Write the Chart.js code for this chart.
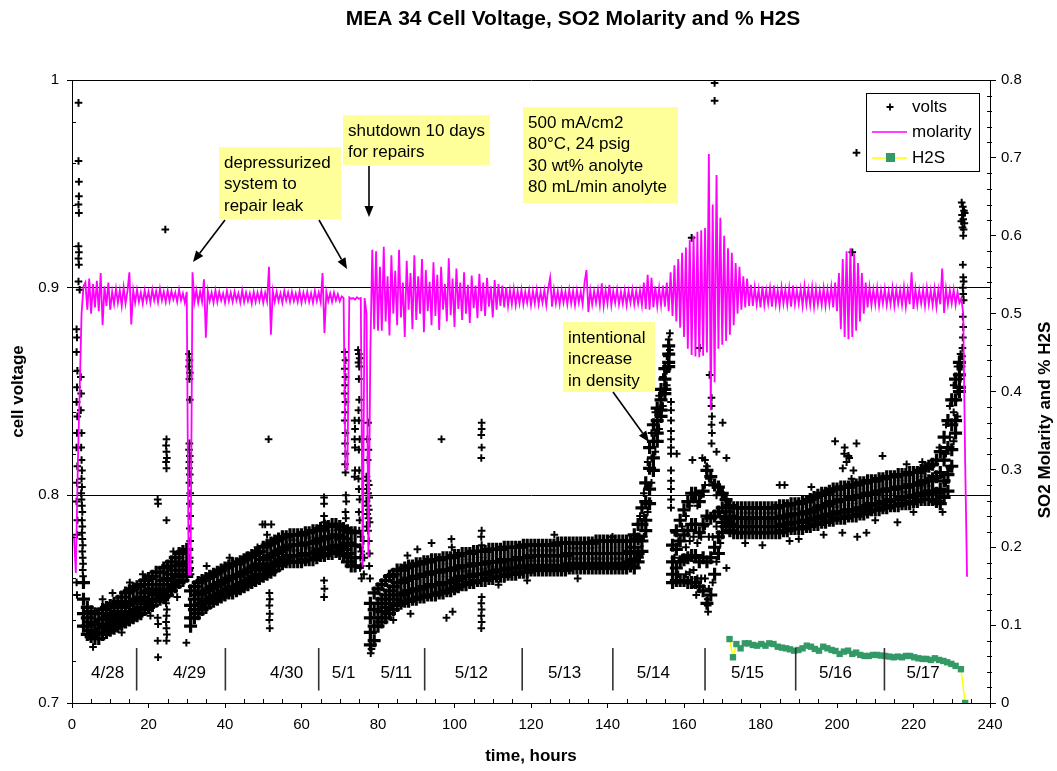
<!DOCTYPE html>
<html>
<head>
<meta charset="utf-8">
<script src="https://cdn.jsdelivr.net/npm/chart.js@4.4.1/dist/chart.umd.min.js"></script>
<style>
  html, body { margin: 0; padding: 0; background: #fff; }
  #wrap { width: 1057px; height: 771px; }
</style>
</head>
<body>
<div id="wrap"><canvas id="chart" width="1057" height="771"></canvas></div>
<script>
// ---- cell voltage: dense band, one row per hour [top, upper, lower, bottom] ----
const bandStart1 = 3;   // 4/28 – 4/29
const voltsBand1 = [
  [.758,.750,.743,.737],[.746,.741,.737,.733],[.744,.739,.735,.732],[.743,.738,.734,.731],[.743,.738,.734,.731],
  [.745,.740,.736,.733],[.746,.741,.737,.734],[.747,.742,.738,.735],[.748,.743,.739,.736],[.749,.744,.740,.737],
  [.751,.746,.741,.738],[.753,.747,.742,.739],[.754,.748,.743,.740],[.755,.749,.744,.741],[.756,.750,.745,.742],
  [.757,.751,.746,.743],[.759,.753,.748,.745],[.760,.754,.749,.746],[.761,.755,.750,.747],[.763,.757,.752,.749],
  [.763,.757,.753,.750],[.765,.759,.754,.751],[.766,.760,.755,.752],[.768,.762,.757,.754],[.770,.764,.759,.756],
  [.772,.766,.761,.758],[.773,.767,.762,.759],[.774,.768,.764,.761]
];
const bandStart2 = 31;  // 4/29 – 5/1
const voltsBand2 = [
  [.754,.747,.741,.737],[.756,.750,.745,.741],[.758,.752,.747,.743],[.759,.753,.748,.745],[.760,.754,.749,.746],
  [.761,.755,.750,.748],[.762,.756,.751,.749],[.763,.757,.752,.750],[.764,.758,.753,.751],[.765,.759,.754,.752],
  [.766,.760,.755,.753],[.767,.761,.756,.753],[.767,.761,.756,.754],[.768,.762,.757,.755],[.769,.763,.758,.756],
  [.770,.764,.759,.757],[.771,.765,.760,.758],[.772,.766,.761,.759],[.773,.767,.762,.760],[.775,.769,.764,.761],
  [.776,.770,.765,.762],[.777,.771,.766,.763],[.778,.772,.767,.764],[.779,.773,.768,.766],[.780,.774,.769,.767],
  [.780,.775,.770,.768],[.781,.776,.771,.768],[.781,.776,.771,.768],[.781,.776,.771,.768],[.781,.776,.771,.768],
  [.782,.777,.772,.769],[.782,.777,.772,.769],[.783,.777,.772,.769],[.783,.778,.773,.770],[.784,.779,.774,.771],
  [.785,.779,.774,.771],[.785,.780,.775,.772],[.786,.780,.775,.772],[.786,.781,.776,.773],[.785,.780,.775,.772],
  [.784,.779,.774,.771],[.783,.777,.772,.768],[.782,.776,.770,.766],[.782,.776,.770,.766]
];
const bandStart3 = 78;  // 5/11 – 5/14, ending in the density ramp
const voltsBand3 = [
  [.748,.741,.734,.728],[.753,.745,.737,.730],[.755,.748,.741,.737],[.757,.750,.744,.739],[.759,.752,.746,.741],
  [.761,.754,.748,.743],[.762,.756,.750,.745],[.764,.758,.752,.747],[.764,.758,.752,.748],[.765,.759,.753,.749],
  [.766,.760,.754,.749],[.766,.760,.754,.750],[.767,.761,.755,.750],[.767,.761,.755,.751],[.768,.762,.756,.751],
  [.768,.762,.756,.752],[.769,.763,.757,.752],[.769,.763,.757,.752],[.769,.763,.757,.753],[.770,.764,.758,.753],
  [.770,.764,.758,.754],[.770,.764,.758,.754],[.771,.765,.759,.755],[.771,.765,.760,.756],[.772,.766,.761,.757],
  [.772,.766,.761,.757],[.772,.766,.761,.758],[.773,.767,.762,.758],[.773,.767,.762,.759],[.773,.767,.762,.759],
  [.773,.767,.762,.759],[.774,.768,.763,.760],[.774,.768,.763,.760],[.774,.768,.764,.761],[.774,.768,.764,.761],
  [.775,.769,.764,.761],[.775,.769,.765,.762],[.775,.769,.765,.762],[.775,.769,.765,.762],[.775,.770,.765,.763],
  [.776,.770,.766,.763],[.776,.770,.766,.763],
  [.776,.771,.766,.764],[.776,.771,.766,.764],[.776,.771,.766,.764],[.776,.771,.766,.764],[.776,.771,.766,.764],
  [.776,.771,.766,.764],[.776,.771,.766,.764],[.777,.771,.766,.764],[.777,.771,.766,.764],[.777,.771,.766,.764],
  [.777,.772,.767,.765],[.777,.772,.767,.765],[.777,.772,.767,.765],[.777,.772,.767,.765],[.777,.772,.767,.765],
  [.777,.772,.767,.765],[.777,.772,.767,.765],[.778,.772,.767,.765],[.778,.772,.767,.765],[.778,.772,.767,.765],
  [.778,.772,.767,.765],[.778,.772,.767,.765],[.778,.772,.767,.765],[.778,.772,.767,.765],[.778,.772,.767,.765],
  [.778,.772,.767,.765],[.778,.773,.768,.766],
  [.781,.775,.769,.765],[.786,.779,.772,.768],[.794,.786,.778,.773],[.806,.797,.788,.783],[.823,.813,.803,.796],
  [.834,.826,.818,.812],[.842,.836,.830,.826],[.851,.846,.841,.838],[.861,.856,.851,.849],[.872,.868,.864,.862]
];
const bandStart4 = 157; // 5/14 – 5/15 upset
const voltsBand4 = [
  [.776,.768,.762,.758],[.783,.774,.765,.759],[.788,.778,.768,.759],[.793,.781,.769,.759],[.797,.783,.770,.758],
  [.801,.786,.771,.758],[.801,.786,.771,.758],[.797,.782,.768,.756],[.802,.786,.770,.754],[.812,.790,.768,.748],
  [.809,.789,.770,.752],[.805,.790,.775,.762],[.804,.792,.780,.772],[.801,.794,.787,.782],[.798,.792,.787,.785]
];
const bandStart5 = 172; // 5/15 – 5/17
const voltsBand5 = [
  [.795,.790,.786,.783],[.794,.789,.785,.782],[.794,.789,.785,.782],[.794,.789,.785,.782],[.794,.789,.785,.782],
  [.794,.789,.785,.782],[.794,.789,.785,.782],[.794,.789,.785,.782],[.794,.789,.785,.782],[.794,.789,.785,.782],
  [.794,.789,.785,.782],[.794,.789,.785,.782],[.794,.789,.785,.782],[.795,.789,.785,.782],[.795,.790,.786,.783],
  [.795,.790,.786,.783],[.796,.791,.787,.784],[.796,.791,.787,.784],[.796,.791,.787,.784],[.797,.791,.787,.784],
  [.797,.792,.788,.785],[.798,.792,.788,.785],[.799,.793,.789,.786],[.800,.794,.789,.786],[.801,.795,.790,.787],
  [.801,.795,.790,.787],[.802,.796,.791,.788],[.803,.797,.791,.788],[.803,.797,.792,.789],[.804,.798,.792,.789],
  [.804,.798,.792,.789],[.804,.798,.793,.790],[.805,.799,.793,.790],[.805,.799,.793,.790],[.806,.800,.794,.791],
  [.806,.800,.794,.791],[.807,.801,.795,.792],[.807,.801,.796,.793],[.807,.801,.796,.793],[.808,.802,.796,.793],
  [.808,.802,.797,.794],[.809,.803,.797,.794],[.809,.803,.798,.795],[.809,.803,.798,.795],[.810,.804,.798,.795],
  [.810,.804,.799,.796],[.810,.804,.799,.796],[.811,.805,.799,.796],[.811,.805,.800,.797],[.811,.805,.800,.797],
  [.812,.806,.801,.798],[.813,.807,.801,.798],[.814,.807,.802,.798],[.815,.808,.802,.798],[.817,.809,.801,.797],
  [.821,.811,.803,.796],[.828,.817,.807,.799],[.836,.823,.810,.802],[.846,.834,.822,.814],[.856,.846,.836,.830],
  [.864,.858,.852,.850]
];

// ---- cell voltage: scattered readings [hour, volts] ----
const voltsStartup = [
  [1.7,.989],[1.7,.961],[1.8,.951],[1.8,.944],[1.7,.940],[1.8,.936],[1.7,.920],[1.8,.917],[1.7,.914],[1.8,.911],
  [1.7,.903],[2.0,.899],[1.2,.880],[1.3,.876],[1.2,.869],[1.4,.860],[1.3,.852],[1.2,.845],[1.4,.838],[1.3,.830],
  [1.2,.823],[1.4,.814],[1.3,.806],[1.2,.797],[1.4,.788],[1.3,.781],[1.2,.758],[1.3,.752],
  [2.3,.857],[2.4,.849],[2.3,.841],[2.5,.830],[2.4,.823],[2.5,.817],[2.6,.812],[2.5,.808],[2.6,.804],[2.4,.801],
  [2.5,.798],[2.6,.795],[2.7,.792],[2.6,.788],[2.7,.785],[2.6,.782],[2.7,.779],[2.8,.776],[2.7,.773],[2.8,.770],
  [2.9,.767],[2.8,.764],[2.9,.761]
];
const voltsApril = [
  [22.4,.798],[22.5,.796],[22.4,.741],[22.5,.738],[22.4,.730],[22.5,.722],[24.4,.928],
  [24.7,.827],[24.6,.824],[24.7,.821],[24.8,.818],[24.6,.816],[24.7,.813],[24.7,.788],[24.7,.751],[24.6,.748],
  [24.8,.745],[24.7,.742],[24.6,.739],[24.7,.736],[24.8,.733],[24.7,.730],
  [8.0,.750],[10.6,.753],[15.1,.758],[18.5,.762],[26.5,.773],[5.5,.727],[13.0,.734],[20.5,.742],[27.5,.751],
  [29.9,.729],[30.6,.868],[30.7,.865],[30.6,.862],[30.8,.859],[30.7,.856],[30.8,.846],[30.7,.825],[30.6,.822],
  [30.8,.819],[30.7,.816],[30.6,.813],[30.8,.810],[30.7,.806],[30.9,.801],[30.8,.796],[30.9,.790],[30.8,.784],
  [30.9,.778],[30.8,.770],[30.9,.765],[31.0,.762],
  [35.2,.766],[41.2,.770],[45.6,.771],[48.5,.775],
  [51.4,.827],[51.6,.753],[51.7,.750],[51.6,.747],[51.7,.743],[51.6,.740],[51.7,.736],[49.8,.786],[50.5,.786],
  [52.1,.786],[51.0,.781],
  [65.9,.799],[65.9,.796],[65.9,.790],[66.0,.787],[65.9,.783],[66.0,.780],[65.9,.759],[66.0,.755],[65.9,.751]
];
const voltsShutdown = [
  [71.3,.869],[71.5,.865],[71.3,.861],[71.5,.857],[71.4,.853],[71.3,.849],[71.5,.845],[71.4,.840],[71.3,.836],
  [71.5,.830],[71.4,.825],[71.5,.820],[71.4,.815],[71.5,.811],[71.6,.800],[71.7,.797],[71.5,.792],[71.6,.789],
  [73.9,.836],[74.0,.832],[73.9,.827],[74.0,.823],[74.0,.812],[73.9,.809],
  [74.8,.870],[75.0,.868],[75.2,.866],[74.9,.864],[75.1,.862],[75.0,.856],[75.1,.846],[74.9,.841],[75.0,.836],
  [75.2,.827],[75.0,.822],[75.1,.812],[74.9,.808],[75.0,.803],[75.2,.798],[75.0,.792],[75.2,.788],[75.1,.783],
  [75.3,.775],[75.4,.770],[75.3,.765],[75.5,.780],[75.6,.773],[75.5,.766],[75.7,.760],[76.2,.778],[76.4,.770],
  [76.3,.762],
  [77.4,.835],[77.2,.827],[77.5,.822],[77.3,.817],[77.0,.809],[77.3,.807],[77.6,.805],[77.1,.803],[77.4,.801],
  [77.7,.799],[77.0,.797],[77.3,.795],[77.6,.793],[77.2,.791],[77.5,.789],[77.8,.787],[77.1,.785],[77.4,.783],
  [77.6,.778],[77.8,.772],[77.7,.766],[77.9,.760],[78.1,.724],[78.3,.726]
];
const voltsMay = [
  [96.6,.827],[107.1,.835],[107.1,.832],[107.0,.829],[107.1,.823],[107.0,.818],[107.1,.783],[107.0,.780],
  [107.1,.776],[107.1,.751],[107.0,.748],[107.1,.745],[107.0,.742],[107.1,.739],[107.0,.736],
  [94.0,.777],[99.2,.779],[99.3,.775],[90.3,.774],[87.7,.771],[126.1,.781],[141.3,.780],[97.9,.741],[99.5,.744],
  [132.2,.760],[84.0,.740],[88.5,.743],[111.5,.757],[119.0,.759],
  [147.5,.780],[147.5,.770],[148.5,.790],[148.5,.779],[148.5,.770],[149.5,.801],[149.5,.790],[149.5,.780],
  [150.5,.816],[150.5,.804],[150.5,.792],[151.5,.830],[151.5,.818],[151.5,.806],[152.5,.840],[152.5,.830],
  [152.5,.821],[153.5,.848],[153.5,.840],[153.5,.832],[154.5,.857],[154.5,.850],[154.5,.843],[155.5,.867],
  [155.5,.860],[155.5,.853],[156.0,.875],[156.3,.878],[156.3,.870],
  [156.6,.845],[156.6,.841],[156.6,.836],[156.6,.831],[156.6,.827],[156.6,.823],[156.6,.820],[156.6,.812],
  [156.6,.807],[156.6,.803],[156.6,.798],[156.6,.794],
  [158.1,.820],[162.2,.817],[164.8,.818],[167.2,.847],[167.2,.843],[167.3,.838],[167.2,.834],[167.3,.830],
  [167.2,.825],[170.1,.835],[168.5,.821],[171.1,.818],[157.5,.782],[163.2,.752],[171.1,.765],[168.0,.9986],
  [168.0,.990],[162.0,.924],[164.1,.871],[166.7,.858],[166.2,.750],[166.2,.747],[166.3,.744],[165.5,.817],
  [166.0,.814],[165.8,.812],
  [157.5,.770],[158.5,.778],[158.5,.762],[159.5,.785],[159.5,.770],[160.5,.790],[160.5,.775],[160.5,.762],
  [161.5,.795],[161.5,.778],[161.5,.763],[162.5,.798],[162.5,.780],[162.5,.764],[163.5,.795],[163.5,.777],
  [163.5,.760],[164.5,.800],[164.5,.780],[164.5,.760],[165.5,.805],[165.5,.785],[165.5,.760],[166.5,.808],
  [166.5,.780],[166.5,.755],[167.5,.805],[167.5,.780],[167.5,.758],[168.5,.800],[168.5,.785],[168.5,.768],
  [169.5,.802],[169.5,.790],[169.5,.777],[170.5,.800],[170.5,.790],[171.5,.797],[171.5,.788],
  [199.5,.826],[202.0,.823],[203.0,.819],[202.5,.816],[201.5,.813],[211.9,.819],[185.0,.805],[186.3,.805],
  [193.3,.804],[205.1,.825],[201.9,.820],[203.2,.818],[204.3,.812],[203.8,.808],[222.3,.816],[218.2,.815],
  [226.8,.823],[227.9,.820],[187.6,.778],[201.4,.782],[205.3,.780],[207.7,.782],[215.8,.787],[227.6,.792],
  [176.0,.777],[180.5,.776],[190.0,.779],[196.5,.781],[210.0,.788],[220.0,.792],
  [205.1,.965],[204.0,.917]
];
const voltsFinal = [
  [228.5,.834],[228.5,.820],[228.5,.806],[229.5,.843],[229.5,.828],[229.5,.813],[230.5,.853],[230.5,.840],
  [230.5,.826],[231.5,.862],[231.5,.850],[231.5,.838],[232.3,.868],[232.3,.862],[232.3,.856],
  [232.6,.941],[232.9,.939],[233.2,.937],[232.7,.935],[233.0,.933],[233.3,.931],[232.8,.929],[233.1,.928],
  [233.4,.936],[232.5,.932],
  [233.0,.925],[232.9,.911],[233.0,.905],[233.1,.903],[232.9,.900],[233.0,.897],[233.1,.894],[232.9,.886],
  [233.0,.881],[232.9,.876],[232.8,.871],[232.7,.867],[232.6,.862]
];

// ---- SO2 molarity, one reading every half hour ----
const molStep = 0.5;
const molStart1 = 0.5;
const molarity1 = [
  .215,.167,.300,.400,.500,.535,.540,.505,.545,.500,
  .538,.508,.542,.503,.552,.485,.535,.510,.540,.505,
  .528,.512,.532,.514,.530,.510,.534,.513,.529,.553,
  .486,.530,.514,.531,.515,.527,.513,.530,.516,.528,
  .514,.531,.517,.529,.515,.532,.517,.528,.515,.530,
  .516,.529,.518,.527,.515,.531,.517,.526,.514,.528
];
const molStart2 = 30.5;
const molarity2 = [
  .165,.165,.553,.515,.530,.514,.528,.515,.544,.469,
  .529,.516,.527,.514,.530,.515,.528,.517,.526,.514,
  .529,.516,.527,.515,.528,.517,.526,.514,.530,.515,
  .527,.516,.526,.513,.528,.515,.527,.516,.529,.514,
  .527,.516,.560,.473,.529,.515,.528,.516,.526,.514,
  .529,.517,.527,.515,.528,.516,.526,.515,.529,.514,
  .527,.516,.528,.515,.526,.514,.529,.516,.527,.515,
  .552,.475,.528,.516,.526,.515,.527,.517,.525,.516,
  .522,.520,.300,.300,.521,.519,.520,.518,.521,.519,
  .520,.175,.520,.500,.187,.450,.582,.480,.580,.478
];
const molStart3 = 80.5;
const molarity3 = [
  .560,.478,.586,.490,.548,.472,.575,.500,.555,.485,
  .582,.495,.540,.470,.568,.505,.552,.480,.575,.492,
  .548,.500,.570,.476,.556,.503,.541,.485,.566,.497,
  .550,.479,.560,.505,.538,.490,.571,.498,.545,.483,
  .558,.506,.540,.492,.553,.500,.537,.488,.549,.507,
  .536,.494,.551,.503,.540,.497,.546,.509,.535,.495,
  .543,.505,.538,.510,.536,.508,.534,.510,.530,.512,
  .532,.511,.529,.513,.531,.512,.528,.514,.530,.511,
  .529,.513,.531,.512,.528,.514,.530,.511,.532,.546,
  .509,.531,.513,.529,.512,.530,.514,.528,.512,.531
];
const molStart4 = 130.5;
const molarity4 = [
  .513,.529,.511,.530,.514,.528,.512,.540,.556,.502,
  .530,.512,.529,.514,.531,.511,.539,.510,.530,.513,
  .537,.511,.529,.514,.531,.512,.528,.513,.530,.511,
  .529,.514,.531,.512,.529,.513,.530,.511,.540,.506,
  .550,.505,.546,.508,.535,.510,.533,.511,.536,.509,
  .540,.503,.553,.497,.562,.490,.570,.482,.578,.470,
  .585,.455,.595,.447,.600,.445,.605,.444,.607,.446,
  .610,.450,.705,.376,.640,.412,.678,.455,.623,.460,
  .600,.465,.584,.473,.578,.485,.565,.500,.560,.505,
  .548,.508,.545,.510,.537,.510,.534,.512,.531,.508
];
const molStart5 = 180.5;
const molarity5 = [
  .535,.511,.530,.513,.533,.509,.536,.512,.530,.510,
  .534,.513,.531,.511,.533,.509,.536,.512,.530,.513,
  .532,.510,.535,.512,.531,.511,.534,.509,.532,.512,
  .530,.511,.533,.510,.531,.512,.534,.508,.540,.503,
  .552,.480,.570,.470,.580,.467,.584,.470,.577,.478,
  .565,.490,.552,.500,.540,.508,.534,.511,.531,.512,
  .533,.510,.530,.513,.532,.511,.529,.512,.533,.510,
  .531,.513,.530,.511,.534,.509,.531,.512,.553,.506,
  .532,.511,.530,.513,.531,.510,.533,.512,.530,.511,
  .532,.509,.531,.512,.558,.501,.532,.512,.530,.513,
  .531,.511,.528,.514,.520,.500,.312,.162
];

// ---- % H2S ----
const h2sHours = [171.9,172.8,173.7,174.8,175.9,176.9,178.0,179.1,180.2,181.3,182.3,183.4,184.5,185.6,186.7,
  187.7,188.8,189.9,191.0,192.1,193.2,194.2,195.3,196.4,197.5,198.6,199.6,200.7,201.8,202.9,204.0,205.0,
  206.1,207.2,208.3,209.4,210.5,211.5,212.6,213.7,214.8,215.9,217.0,218.0,219.1,220.2,221.3,222.4,223.4,
  224.5,225.6,226.7,227.8,228.8,229.9,231.0,232.4,233.5];
const h2sPct = [.0821,.0587,.0757,.0702,.0766,.0766,.0745,.0736,.0757,.0736,.0766,.0757,.0723,.0711,.0702,
  .0689,.0672,.0681,.0702,.0736,.0723,.0694,.0672,.0723,.0702,.0681,.0668,.0630,.0660,.0672,.0630,.0647,
  .0617,.0604,.0604,.0617,.0617,.0609,.0604,.0596,.0587,.0596,.0587,.0604,.0604,.0587,.0574,.0566,.0566,
  .0553,.0574,.0553,.0540,.0523,.0502,.0477,.0434,0];

// ---- date strip along the bottom of the plot ----
const dayLabels = ['4/28','4/29','4/30','5/1','5/11','5/12','5/13','5/14','5/15','5/16','5/17'];
const dayLabelHours = [9.3,30.7,56.1,71.0,84.8,104.4,128.8,152.0,176.6,199.6,222.5];
const dayBreakHours = [16.9,40.1,64.5,92.2,117.7,141.4,165.5,189.2,212.4];

// ---- build point lists ----
function bandPoints(rows, start) {
  const pts = [];
  rows.forEach((row, i) => row.forEach(v => pts.push({ x: start + i, y: v })));
  return pts;
}
function pairPoints(list) { return list.map(([x, y]) => ({ x, y })); }
function stepPoints(values, start) { return values.map((v, i) => ({ x: start + i * molStep, y: v })); }

const bandData = [].concat(
  bandPoints(voltsBand1, bandStart1), bandPoints(voltsBand2, bandStart2), bandPoints(voltsBand3, bandStart3),
  bandPoints(voltsBand4, bandStart4), bandPoints(voltsBand5, bandStart5));
const scatterData = [].concat(
  pairPoints(voltsStartup), pairPoints(voltsApril), pairPoints(voltsShutdown), pairPoints(voltsMay), pairPoints(voltsFinal));
const molData = [].concat(
  stepPoints(molarity1, molStart1), stepPoints(molarity2, molStart2), stepPoints(molarity3, molStart3),
  stepPoints(molarity4, molStart4), stepPoints(molarity5, molStart5));
const h2sData = h2sHours.map((h, i) => ({ x: h, y: h2sPct[i] }));

const FONT = "'Liberation Sans', Arial, Helvetica, sans-serif";
Chart.defaults.font.family = FONT;
Chart.defaults.font.size = 15;
Chart.defaults.color = '#000';

// minor ticks, date strip, callouts, legend and titles
const decorations = {
  id: 'decorations',
  afterDatasetsDraw(chart) {
    const { ctx, scales: { x, y } } = chart;
    ctx.save();
    // date strip
    ctx.strokeStyle = '#333';
    ctx.lineWidth = 1.6;
    dayBreakHours.forEach(h => {
      const px = x.getPixelForValue(h);
      ctx.beginPath();
      ctx.moveTo(px, y.getPixelForValue(0.7265));
      ctx.lineTo(px, y.getPixelForValue(0.7060));
      ctx.stroke();
    });
    ctx.fillStyle = '#000';
    ctx.font = '17px ' + FONT;
    ctx.textAlign = 'center';
    ctx.textBaseline = 'middle';
    dayLabels.forEach((t, i) => ctx.fillText(t, x.getPixelForValue(dayLabelHours[i]), y.getPixelForValue(0.7145)));

    // callout boxes
    const boxes = [
      { x: 219, y: 147, w: 122, h: 72, lines: ['depressurized', 'system to', 'repair leak'] },
      { x: 343, y: 115, w: 147, h: 50, lines: ['shutdown 10 days', 'for repairs'] },
      { x: 523, y: 107, w: 155, h: 96, lines: ['500 mA/cm2', '80°C, 24 psig', '30 wt% anolyte', '80 mL/min anolyte'] },
      { x: 563, y: 322, w: 92, h: 70, lines: ['intentional', 'increase', 'in density'] }
    ];
    ctx.textAlign = 'left';
    ctx.textBaseline = 'alphabetic';
    boxes.forEach(b => {
      ctx.fillStyle = '#FFFF99';
      ctx.fillRect(b.x, b.y, b.w, b.h);
      ctx.fillStyle = '#000';
      b.lines.forEach((t, i) => ctx.fillText(t, b.x + 5, b.y + 20.5 + i * 21.6));
    });
    const arrows = [[225, 220, 193, 262], [319, 220, 347, 269], [369, 166, 369, 217], [613, 392, 649, 442]];
    ctx.strokeStyle = '#000';
    ctx.fillStyle = '#000';
    ctx.lineWidth = 1.6;
    arrows.forEach(([x0, y0, x1, y1]) => {
      const ang = Math.atan2(y1 - y0, x1 - x0);
      const L = 11, W = 4.5;
      const bx = x1 - L * Math.cos(ang), by = y1 - L * Math.sin(ang);
      ctx.beginPath(); ctx.moveTo(x0, y0); ctx.lineTo(bx, by); ctx.stroke();
      ctx.beginPath();
      ctx.moveTo(x1, y1);
      ctx.lineTo(bx + W * Math.sin(ang), by - W * Math.cos(ang));
      ctx.lineTo(bx - W * Math.sin(ang), by + W * Math.cos(ang));
      ctx.closePath(); ctx.fill();
    });

    // legend
    const lx = 866, ly = 93, lw = 113, lh = 78;
    ctx.fillStyle = '#fff';
    ctx.fillRect(lx, ly, lw, lh);
    ctx.strokeStyle = '#000'; ctx.lineWidth = 1;
    ctx.strokeRect(lx + 0.5, ly + 0.5, lw, lh);
    ctx.font = '17px ' + FONT;
    ctx.textBaseline = 'middle';
    ctx.fillStyle = '#000';
    ctx.lineWidth = 1.8;
    ctx.beginPath(); ctx.moveTo(886.5, 107); ctx.lineTo(893.5, 107); ctx.moveTo(890, 103.5); ctx.lineTo(890, 110.5); ctx.stroke();
    ctx.fillText('volts', 912, 107);
    ctx.strokeStyle = '#FF00FF'; ctx.lineWidth = 1.5;
    ctx.beginPath(); ctx.moveTo(872, 132); ctx.lineTo(907, 132); ctx.stroke();
    ctx.fillText('molarity', 912, 132);
    ctx.strokeStyle = '#FFFF00';
    ctx.beginPath(); ctx.moveTo(872, 158); ctx.lineTo(907, 158); ctx.stroke();
    ctx.fillStyle = '#339966'; ctx.fillRect(886, 153, 9, 9);
    ctx.fillStyle = '#000';
    ctx.fillText('H2S', 912, 158);
    ctx.restore();
  },
  afterDraw(chart) {
    const { ctx, chartArea: a, scales: { x, y, y2 } } = chart;
    ctx.save();
    ctx.strokeStyle = '#000';
    ctx.lineWidth = 1;
    ctx.beginPath();
    for (let h = 5; h < 240; h += 5) {
      if (h % 20 === 0) continue;
      const px = Math.round(x.getPixelForValue(h)) + 0.5;
      ctx.moveTo(px, a.bottom); ctx.lineTo(px, a.bottom - 4);
    }
    for (let k = 1; k < 15; k++) {
      if (k % 5 === 0) continue;
      const py = Math.round(y.getPixelForValue(0.7 + k * 0.02)) + 0.5;
      ctx.moveTo(a.left, py); ctx.lineTo(a.left + 4, py);
    }
    for (let k = 1; k < 40; k++) {
      if (k % 5 === 0) continue;
      const py = Math.round(y2.getPixelForValue(k * 0.02)) + 0.5;
      ctx.moveTo(a.right - 3, py); ctx.lineTo(a.right + 2, py);
    }
    ctx.stroke();
    // chart title and right-hand axis title
    ctx.fillStyle = '#000';
    ctx.font = 'bold 21px ' + FONT;
    ctx.textAlign = 'center';
    ctx.textBaseline = 'middle';
    ctx.fillText('MEA 34 Cell Voltage, SO2 Molarity and % H2S', 573, 19);
    ctx.font = 'bold 17px ' + FONT;
    ctx.translate(1045, 420);
    ctx.rotate(-Math.PI / 2);
    ctx.fillText('SO2 Molarity and % H2S', 0, 0);
    ctx.restore();
  }
};

const fmt = v => String(parseFloat(Number(v).toFixed(2)));

new Chart(document.getElementById('chart'), {
  type: 'scatter',
  data: {
    datasets: [
      { label: 'volts', data: bandData, pointStyle: 'cross', pointRadius: 6.5, pointBorderColor: '#000',
        borderColor: '#000', pointBorderWidth: 3.2, showLine: false, yAxisID: 'y', order: 4 },
      { label: 'volts', data: scatterData, pointStyle: 'cross', pointRadius: 3.8, pointBorderColor: '#000',
        borderColor: '#000', pointBorderWidth: 2, showLine: false, yAxisID: 'y', order: 3 },
      { type: 'line', label: 'molarity', data: molData, borderColor: '#FF00FF', borderWidth: 1.8,
        pointRadius: 0, tension: 0, yAxisID: 'y2', order: 2 },
      { type: 'line', label: 'H2S', data: h2sData, borderColor: '#FFFF00', borderWidth: 1.5,
        pointStyle: 'rect', pointRadius: 4.5, pointBackgroundColor: '#339966', pointBorderColor: '#339966',
        pointBorderWidth: 0, tension: 0, yAxisID: 'y2', order: 1 }
    ]
  },
  options: {
    responsive: false,
    animation: false,
    devicePixelRatio: 1,
    events: [],
    layout: { padding: { top: 80, left: 0, right: 0, bottom: 0 } },
    plugins: { legend: { display: false }, tooltip: { enabled: false }, title: { display: false } },
    scales: {
      x: {
        type: 'linear', position: 'bottom', min: 0, max: 240,
        afterFit(s) { s.height = 68; },
        ticks: { stepSize: 20, font: { size: 15 }, padding: 8, maxRotation: 0, color: '#000' },
        grid: { drawOnChartArea: false, color: '#000', tickLength: 5 },
        border: { color: '#000', width: 1 },
        title: { display: true, text: 'time, hours', font: { size: 17, weight: 'bold' }, padding: { top: 0, bottom: 4 }, color: '#000' }
      },
      y: {
        type: 'linear', position: 'left', min: 0.7, max: 1,
        afterFit(s) { s.width = 72; },
        ticks: { stepSize: 0.1, font: { size: 15 }, padding: 8, callback: fmt, color: '#000' },
        grid: { color: '#000', lineWidth: 1, tickLength: 5 },
        border: { color: '#000', width: 1 },
        title: { display: true, text: 'cell voltage', font: { size: 17, weight: 'bold' }, padding: { top: 8, bottom: 0 }, color: '#000' }
      },
      y2: {
        type: 'linear', position: 'right', min: 0, max: 0.8,
        afterFit(s) { s.width = 67; },
        ticks: { stepSize: 0.1, font: { size: 15 }, padding: 5, callback: fmt, color: '#000' },
        grid: { drawOnChartArea: false, color: '#000', tickLength: 6 },
        border: { color: '#000', width: 1 }
      }
    }
  },
  plugins: [decorations]
});
</script>
</body>
</html>
